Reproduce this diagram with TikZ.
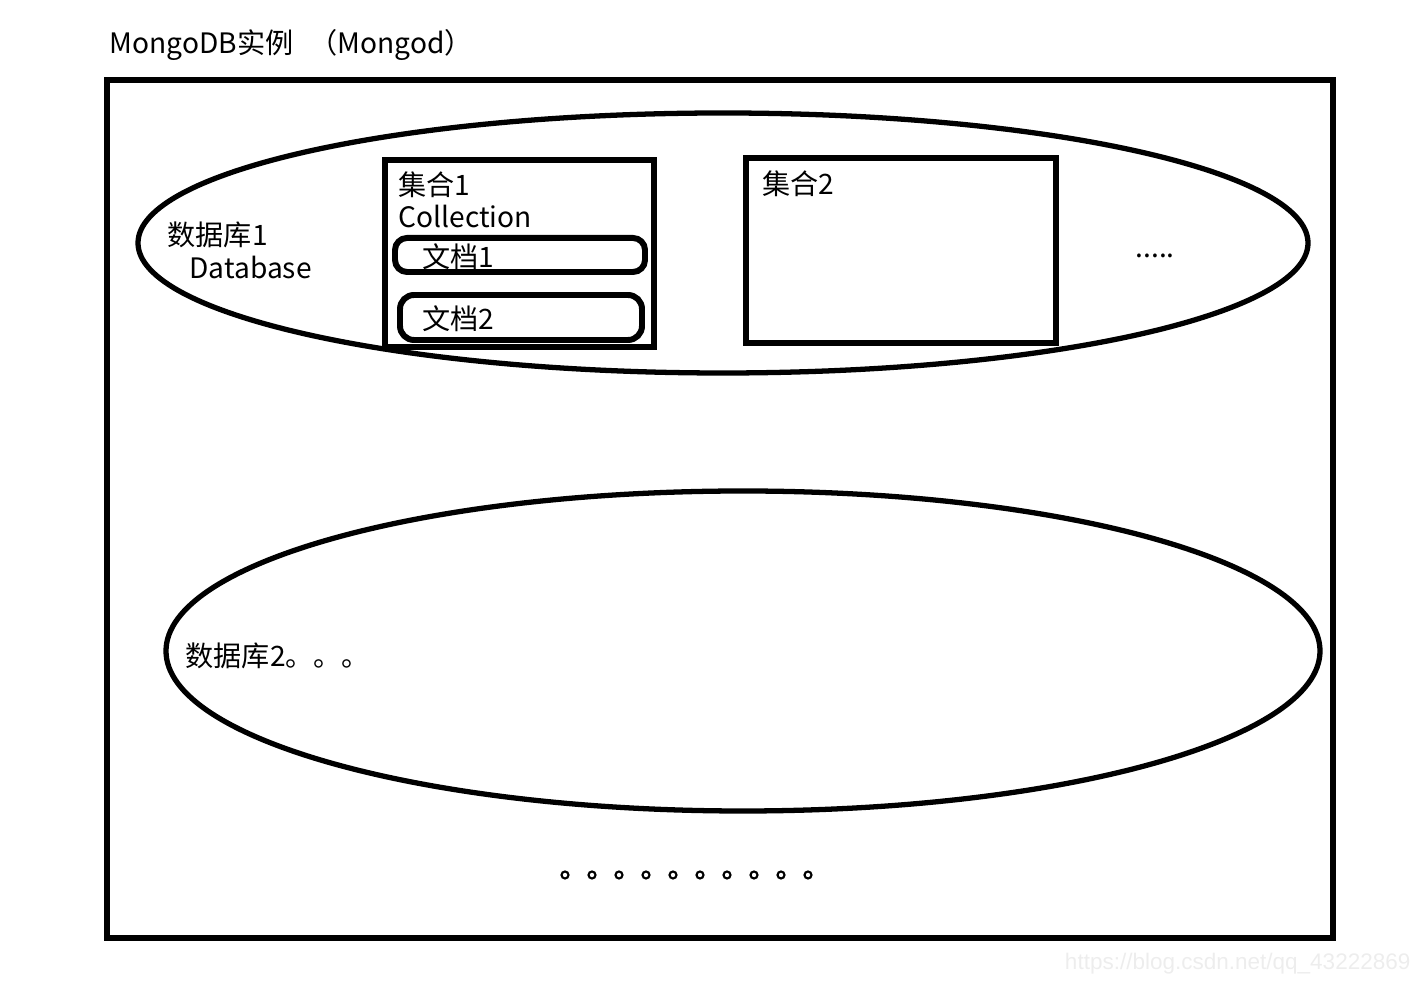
\documentclass[tikz,border=0pt]{standalone}
\usepackage{fontspec}
\setmainfont{Noto Sans CJK SC}
\newfontfamily\markfont{Liberation Sans}
\usetikzlibrary{positioning}

\tikzset{
	label/.style={inner sep=0pt, anchor=west, font=\fontsize{8}{9.6}\selectfont}
}

\begin{document}
\begin{tikzpicture}[x=0.01cm, y=-0.01cm, line width=1.5pt]
		\useasboundingbox (0,0) rectangle (1427,989);

		% instance
		\node[label] (title) at (107,45) {MongoDB实例 \hspace{0.1cm}（Mongod）};
		\draw (107,80) rectangle (1333,938);

		% database 1
		\draw (723,243) ellipse [x radius=585, y radius=130];
		\node[label] (db1) at (165,235) {数据库1};
		\node[label] (db1en) at (187,267) {Database};

		\draw (385,160) rectangle (654,347);
		\node[label] (coll1) at (396,185) {集合1};
		\node[label] (coll1en) at (396,216) {Collection};
		\draw[rounded corners=0.12cm, line width=1.7pt] (395,238) rectangle (645,272);
		\draw[rounded corners=0.14cm, line width=1.7pt] (400,295) rectangle (642,340);
		\node[label] (doc1) at (420,257) {文档1};
		\node[label] (doc2) at (420,319) {文档2};

		\draw (746,158) rectangle (1056,343);
		\node[label] (coll2) at (760,184) {集合2};
		\node[label] (more) at (1133,256) {.....};

		% database 2
		\draw (743,651) ellipse [x radius=577, y radius=160];
		\node[label] (db2) at (183,656) {数据库2。。。};

		% more databases
		\foreach \i in {0,...,9}
			\node[draw, circle, inner sep=0pt, minimum size=0.07cm, line width=0.6pt] (dot\i) at (565+27*\i,875) {};

		\node[label, anchor=east, text=black!7, font=\markfont\fontsize{6.4}{8}\selectfont] (mark) at (1413,964) {https://blog.csdn.net/qq\_43222869};
	\end{tikzpicture}
\end{document}
